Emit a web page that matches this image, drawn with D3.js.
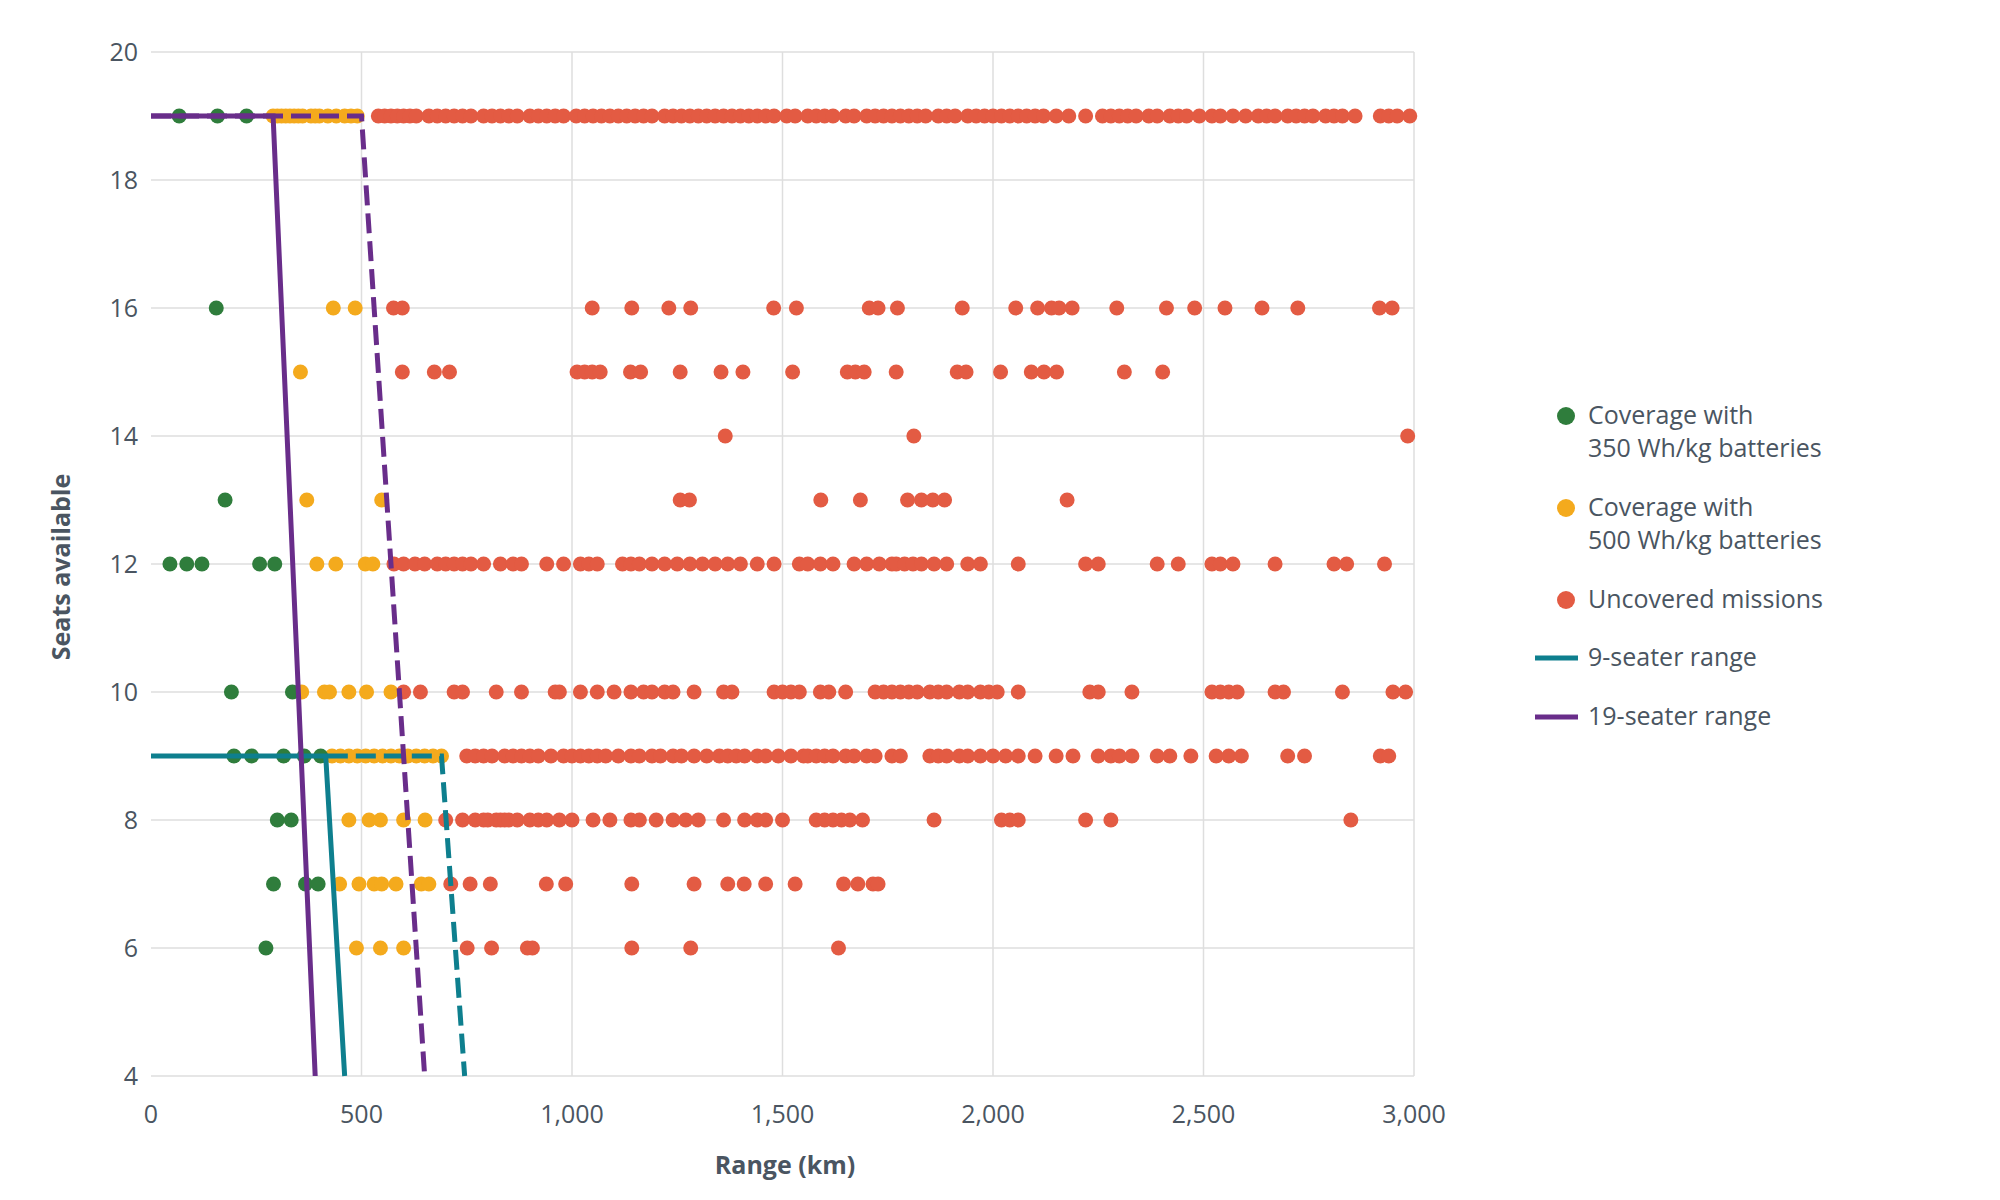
<!DOCTYPE html><html><head><meta charset="utf-8"><script src="https://cdn.jsdelivr.net/npm/d3@7"></script>
<style>body{margin:0;background:#fff}text{font-family:"Open Sans",Lato,sans-serif}</style></head><body><svg id="c" width="2000" height="1200"></svg><script>
const xTicks=[0,500,1000,1500,2000,2500,3000];
const yTicks=[4,6,8,10,12,14,16,18,20];
const green={19:[67,158,227],16:[155],13:[176],12:[45,85,121,258,294],10:[191,336],9:[197,239,315,364,403],8:[300,333],7:[291,367,397],6:[273]};
const yellow={19:[290,300,310,320,330,340,350,360,380,390,400,420,440,460,475,490],16:[433,485],15:[355],13:[370,548],12:[394,439,509,527],10:[358,412,424,470,512,570],9:[430,450,470,490,510,530,550,570,590,610,630,650,670,690],8:[470,518,545,600,651],7:[448,494,530,548,582,642,660],6:[488,545,600]};
const red={19:[540,555,570,585,600,615,630,660,680,700,720,740,760,790,810,830,850,870,900,920,940,960,980,1010,1030,1050,1070,1090,1110,1130,1150,1170,1190,1220,1240,1260,1280,1300,1320,1340,1360,1380,1400,1420,1440,1460,1480,1510,1530,1560,1580,1600,1620,1650,1670,1700,1720,1740,1760,1780,1800,1820,1840,1870,1890,1910,1940,1960,1980,2000,2020,2040,2060,2080,2100,2120,2150,2180,2220,2260,2280,2300,2320,2340,2370,2390,2420,2440,2460,2490,2520,2540,2570,2600,2630,2650,2670,2700,2720,2740,2760,2790,2810,2830,2860,2920,2940,2960,2990],
16:[576,597,1048,1142,1230,1282,1479,1533,1706,1727,1773,1927,2054,2106,2139,2157,2188,2294,2412,2479,2551,2639,2724,2918,2948],
15:[597,673,709,1012,1030,1048,1067,1139,1163,1257,1354,1406,1524,1654,1673,1694,1770,1915,1936,2018,2091,2121,2151,2312,2403],
14:[1364,1812,2985],
13:[1257,1279,1591,1685,1797,1830,1857,1885,2176],
12:[577,600,627,650,680,700,720,740,760,790,830,860,880,940,980,1020,1040,1060,1120,1140,1160,1190,1220,1250,1280,1310,1340,1370,1400,1440,1480,1540,1560,1590,1620,1670,1700,1730,1760,1770,1790,1810,1830,1860,1890,1940,1970,2060,2220,2250,2390,2440,2520,2540,2570,2670,2810,2840,2930],
10:[600,640,720,740,820,880,960,970,1020,1060,1100,1140,1170,1190,1220,1240,1290,1360,1380,1480,1500,1520,1540,1590,1610,1650,1720,1740,1760,1780,1800,1820,1850,1870,1890,1920,1940,1970,1990,2010,2060,2230,2250,2330,2520,2540,2560,2580,2670,2690,2830,2950,2980],
9:[750,770,790,810,840,860,880,900,920,950,980,1000,1020,1040,1060,1080,1110,1140,1160,1190,1210,1240,1260,1290,1320,1350,1370,1390,1410,1440,1460,1490,1520,1550,1560,1580,1600,1620,1650,1670,1700,1720,1760,1780,1850,1870,1890,1920,1940,1970,2000,2030,2060,2100,2150,2190,2250,2280,2300,2330,2390,2420,2470,2530,2560,2590,2700,2740,2920,2940],
8:[700,740,770,790,800,820,830,840,850,870,900,920,940,970,1000,1050,1090,1140,1160,1200,1240,1270,1300,1360,1410,1440,1460,1500,1580,1600,1620,1640,1660,1690,1860,2020,2040,2060,2220,2280,2850],
7:[712,758,806,939,985,1142,1290,1370,1409,1460,1530,1645,1679,1715,1727],
6:[751,809,894,906,1142,1282,1633]};
const seater19Solid=[[0,19],[290,19],[390,4]];
const seater19Dash=[[0,19],[500,19],[650,4]];
const seater9Solid=[[0,9],[415,9],[460,4]];
const seater9Dash=[[420,9],[690,9],[745,4]];
const legendLabels=[["Coverage with","350 Wh/kg batteries"],["Coverage with","500 Wh/kg batteries"],["Uncovered missions"],["9-seater range"],["19-seater range"]];
const C={g:"#2f7d3c",y:"#f4aa1d",r:"#e35b43",t:"#0e7f8e",p:"#692d8a",txt:"#4a5561"};
const svg=d3.select("#c");
const x=d3.scaleLinear().domain([0,3000]).range([151,1414]);
const y=d3.scaleLinear().domain([4,20]).range([1076,52]);
svg.append("g").selectAll("line").data(yTicks).join("line").attr("x1",151).attr("x2",1414).attr("y1",y).attr("y2",y).attr("stroke","#dedede").attr("stroke-width",1.5);
svg.append("g").selectAll("line").data(xTicks.slice(1)).join("line").attr("x1",x).attr("x2",x).attr("y1",52).attr("y2",1076).attr("stroke","#dedede").attr("stroke-width",1.5);
const fmt=d3.format(",");
svg.append("g").selectAll("text").data(yTicks).join("text").attr("x",138).attr("y",d=>y(d)+9).attr("text-anchor","end").attr("font-size",25).attr("fill",C.txt).text(d=>d);
svg.append("g").selectAll("text").data(xTicks).join("text").attr("x",x).attr("y",1123).attr("text-anchor","middle").attr("font-size",25).attr("fill",C.txt).text(d=>fmt(d));
svg.append("text").attr("x",785).attr("y",1174).attr("text-anchor","middle").attr("font-size",25).attr("font-weight","bold").attr("fill",C.txt).text("Range (km)");
svg.append("text").attr("transform","translate(70,567) rotate(-90)").attr("text-anchor","middle").attr("font-size",25).attr("font-weight","bold").attr("fill",C.txt).text("Seats available");
function dots(obj,col){const pts=[];for(const k in obj)obj[k].forEach(v=>pts.push([v,+k]));svg.append("g").selectAll("circle").data(pts).join("circle").attr("cx",d=>x(d[0])).attr("cy",d=>y(d[1])).attr("r",7.5).attr("fill",col);}
dots(red,C.r);dots(yellow,C.y);dots(green,C.g);
const line=d3.line().x(d=>x(d[0])).y(d=>y(d[1]));
[[seater9Solid,C.t,null],[seater9Dash,C.t,"20,8"],[seater19Solid,C.p,null],[seater19Dash,C.p,"20,8"]].forEach(([d,c,da])=>svg.append("path").attr("d",line(d)).attr("fill","none").attr("stroke",c).attr("stroke-width",5).attr("stroke-dasharray",da));
const ly=[416,508,600,658,717];const lc=[C.g,C.y,C.r,C.t,C.p];
legendLabels.forEach((l,i)=>{
 if(i<3)svg.append("circle").attr("cx",1566).attr("cy",ly[i]).attr("r",9).attr("fill",lc[i]);
 else svg.append("line").attr("x1",1535).attr("x2",1578).attr("y1",ly[i]).attr("y2",ly[i]).attr("stroke",lc[i]).attr("stroke-width",5);
 l.forEach((t,j)=>svg.append("text").attr("x",1588).attr("y",ly[i]+8+j*33).attr("font-size",25).attr("fill",C.txt).text(t));
});
</script></body></html>
